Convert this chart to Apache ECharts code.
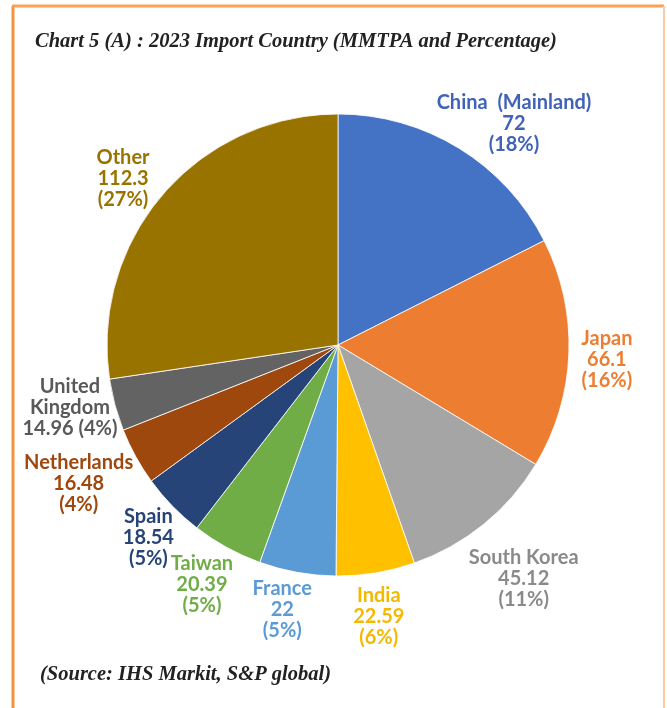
<!DOCTYPE html>
<html><head><meta charset="utf-8">
<script src="https://cdn.jsdelivr.net/npm/echarts@6/dist/echarts.min.js"></script>
<style>html,body{margin:0;padding:0;background:#fff}#c{width:667px;height:708px}</style>
</head><body><div id="c"></div>
<script>
var countries = ['China  (Mainland)', 'Japan', 'South Korea', 'India', 'France', 'Taiwan', 'Spain', 'Netherlands', 'United Kingdom', 'Other'];
var volumes = [72, 66.1, 45.12, 22.59, 22, 20.39, 18.54, 16.48, 14.96, 112.3];
var sliceColors = ['#4472C4', '#ED7D31', '#A5A5A5', '#FFC000', '#5B9BD5', '#70AD47', '#264478', '#9E480E', '#636363', '#997300'];
var labelColors = ['#4063B8', '#ED7D31', '#8A8A8A', '#F5B800', '#5B9BD5', '#70AD47', '#264478', '#9E480E', '#595959', '#997300'];
// label offsets from the slice's outer mid-point (layout only)
var labelOffsetX = [55, 38, 40, 3, -15, -25, -24, -57, -45, -40];
var labelOffsetY = [-25, 6, 54, 44, 37, 37, 32, 27, 3, -16];

var CX = 338, CY = 345, R = 231;
var total = volumes.reduce(function (a, b) { return a + b; }, 0);
var midAngles = [];
(function () { var acc = 0; volumes.forEach(function (v) { var mid = acc + v / 2; midAngles.push(90 - mid / total * 360); acc += v; }); })();

function labelText(i) {
  var p = Math.round(volumes[i] / total * 100);
  if (countries[i] === 'United Kingdom') return 'United\nKingdom\n' + volumes[i] + ' (' + p + '%)';
  return countries[i] + '\n' + volumes[i] + '\n(' + p + '%)';
}

var chart = echarts.init(document.getElementById('c'), null, {renderer: 'canvas'});
chart.setOption({
  backgroundColor: '#ffffff',
  animation: false,
  graphic: [
    {type: 'line', shape: {x1: 13, y1: 6, x2: 13, y2: 708}, style: {stroke: '#F5923E', lineWidth: 3}},
    {type: 'line', shape: {x1: 12, y1: 6, x2: 664, y2: 6}, style: {stroke: '#F7A35C', lineWidth: 3}},
    {type: 'line', shape: {x1: 664, y1: 6, x2: 664, y2: 708}, style: {stroke: '#F9C9A0', lineWidth: 2}},
    {type: 'text', left: 35, top: 32, style: {text: 'Chart 5 (A) : 2023 Import Country (MMTPA and Percentage)', font: 'italic bold 20.5px "Liberation Serif"', fill: '#222222'}},
    {type: 'text', left: 40, top: 665, style: {text: '(Source: IHS Markit, S&P global)', font: 'italic bold 20.5px "Liberation Serif"', fill: '#222222'}}
  ],
  series: [{
    type: 'pie',
    center: [CX, CY],
    radius: R,
    startAngle: 90,
    clockwise: true,
    avoidLabelOverlap: false,
    itemStyle: {borderColor: '#ffffff', borderWidth: 0.8},
    label: {
      show: true,
      position: 'outside',
      formatter: function (p) { return labelText(p.dataIndex); },
      fontFamily: 'Lato',
      fontWeight: 'bold',
      fontSize: 20,
      lineHeight: 21,
      align: 'center'
    },
    labelLine: {show: false},
    labelLayout: function (params) {
      var i = params.dataIndex;
      var a = midAngles[i] * Math.PI / 180;
      return {
        x: CX + R * Math.cos(a) + labelOffsetX[i],
        y: CY - R * Math.sin(a) + labelOffsetY[i],
        align: 'center',
        verticalAlign: 'middle'
      };
    },
    data: countries.map(function (n, i) {
      return {name: n, value: volumes[i], itemStyle: {color: sliceColors[i]}, label: {color: labelColors[i]}};
    })
  }]
});
</script>
</body></html>
